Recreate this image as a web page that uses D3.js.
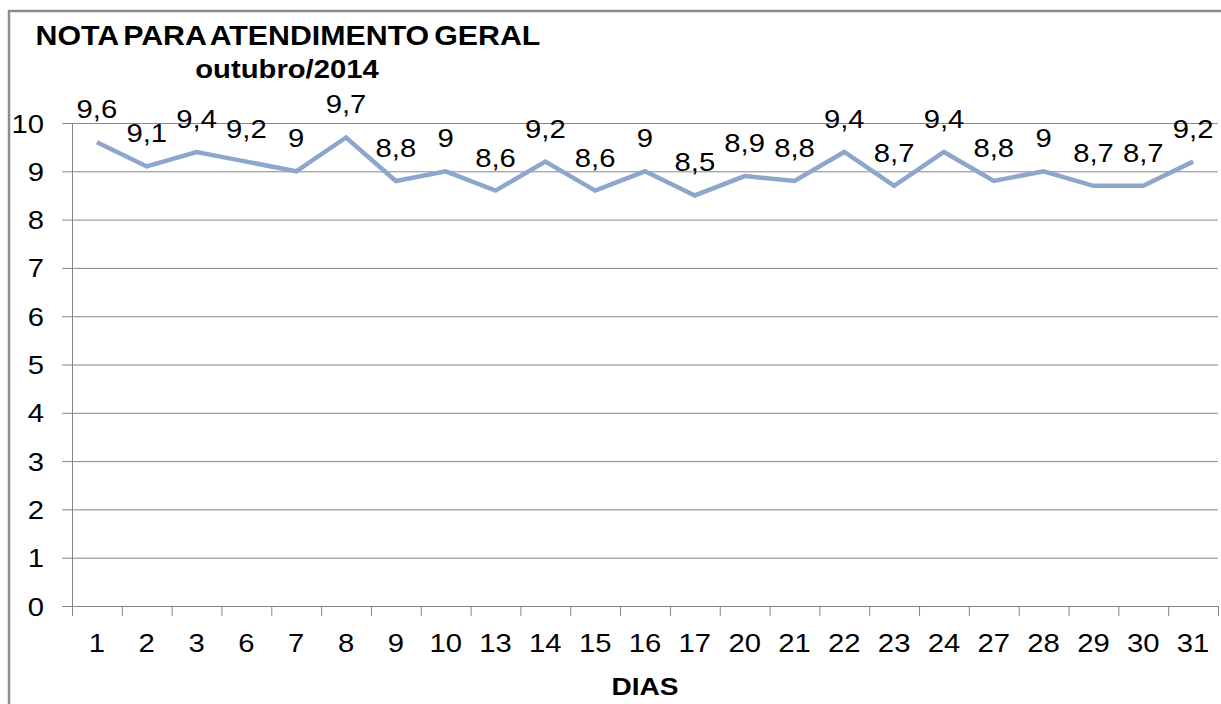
<!DOCTYPE html>
<html>
<head>
<meta charset="utf-8">
<script src="https://cdn.jsdelivr.net/npm/d3@7"></script>
<style>
  html, body { margin: 0; padding: 0; background: #fff; }
  svg { display: block; font-family: "Liberation Sans", Arial, sans-serif; }
</style>
</head>
<body>
<svg id="chart" width="1221" height="704"></svg>
<script>
// ---- data ----
const days = ["1","2","3","6","7","8","9","10","13","14","15","16","17","20","21","22","23","24","27","28","29","30","31"];
const notas = [9.6,9.1,9.4,9.2,9,9.7,8.8,9,8.6,9.2,8.6,9,8.5,8.9,8.8,9.4,8.7,9.4,8.8,9,8.7,8.7,9.2];
const yTicks = [0,1,2,3,4,5,6,7,8,9,10];
const titleText = "NOTA PARA ATENDIMENTO GERAL";
const subtitleText = "outubro/2014";
const xTitle = "DIAS";

// ---- layout ----
const SX = 1.17;           // horizontal stretch of the original picture
const pL = 72, pR = 1218, pT = 123, pB = 606;
const svg = d3.select("#chart");

// frame
svg.append("rect").attr("x", 9).attr("y", 11).attr("width", 1230).attr("height", 720)
  .attr("fill", "none").attr("stroke", "#8c8c8c").attr("stroke-width", 2.5);

const x = d3.scaleBand().domain(days).range([pL, pR]).padding(0);
const xi = d3.scaleLinear().domain([0, days.length]).range([pL, pR]);
const y = d3.scaleLinear().domain([0, 10]).range([pB, pT]);

// gridlines + left tick marks
const grid = svg.append("g").attr("transform", `translate(${pR},0)`)
  .call(d3.axisLeft(y).tickValues(yTicks).tickSize(pR - 62).tickFormat(""));
grid.select(".domain").remove();
grid.selectAll("line").attr("stroke", "#868686").attr("stroke-width", 1);

// y axis line + labels
const yAx = svg.append("g").attr("transform", `translate(${pL},0)`)
  .call(d3.axisLeft(y).tickValues(yTicks).tickSize(0).tickSizeOuter(0).tickPadding(0).tickFormat(d3.format("d")));
yAx.select(".domain").attr("stroke", "#868686");
yAx.selectAll("text")
  .attr("font-size", 25).attr("fill", "#000").attr("font-family", "Liberation Sans, Arial, sans-serif")
  .attr("x", null).attr("dy", null).attr("y", 9)
  .attr("transform", `translate(${44 - pL},0) scale(${SX},1)`)
  .attr("text-anchor", "end");

// x axis ticks at category boundaries
const xTickAx = svg.append("g").attr("transform", `translate(0,${pB})`)
  .call(d3.axisBottom(xi).tickValues(d3.range(days.length + 1)).tickSize(10).tickSizeOuter(0).tickFormat(""));
xTickAx.selectAll("line, path").attr("stroke", "#868686");

// x labels
const xAx = svg.append("g").attr("transform", `translate(0,${pB})`)
  .call(d3.axisBottom(x).tickSize(0).tickSizeOuter(0));
xAx.select(".domain").remove();
xAx.selectAll("text")
  .attr("font-size", 25).attr("fill", "#000").attr("font-family", "Liberation Sans, Arial, sans-serif")
  .attr("y", null).attr("dy", null)
  .attr("transform", `translate(0,46) scale(${SX},1)`);

// line
const line = d3.line().x((d, i) => x(days[i]) + x.bandwidth() / 2).y(d => y(d));
svg.append("path").datum(notas)
  .attr("d", line).attr("fill", "none")
  .attr("stroke", "#8fa6cc").attr("stroke-width", 4.5)
  .attr("stroke-linejoin", "miter");

// data labels
const fmt = v => String(v).replace(".", ",");
svg.append("g").selectAll("text").data(notas).join("text")
  .attr("transform", (d, i) => `translate(${x(days[i]) + x.bandwidth() / 2},${y(d) - 24}) scale(${SX},1)`)
  .attr("text-anchor", "middle")
  .attr("font-size", 25).attr("fill", "#000")
  .text(d => fmt(d));

// titles
const t1 = svg.append("text")
  .attr("text-anchor", "middle").attr("font-weight", "bold").attr("font-size", 27)
  .attr("word-spacing", -3)
  .text(titleText);
const w1 = t1.node().getComputedTextLength();
t1.attr("transform", `translate(288,45) scale(${505 / w1},1)`);
svg.append("text")
  .attr("transform", `translate(287,78) scale(${SX},1)`)
  .attr("text-anchor", "middle").attr("font-weight", "bold").attr("font-size", 25)
  .text(subtitleText);
svg.append("text")
  .attr("transform", `translate(645,695) scale(${SX},1)`)
  .attr("text-anchor", "middle").attr("font-weight", "bold").attr("font-size", 24)
  .text(xTitle);
</script>
</body>
</html>
